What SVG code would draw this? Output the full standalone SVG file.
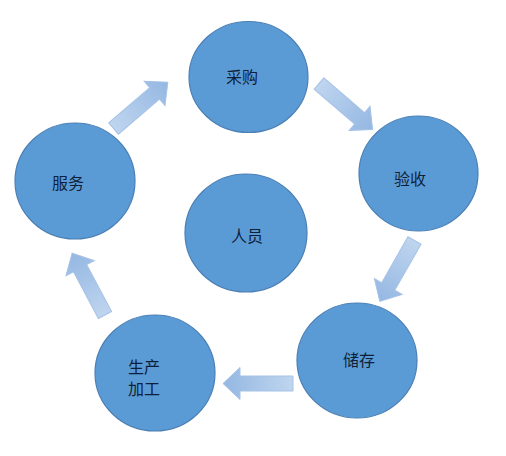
<svg xmlns="http://www.w3.org/2000/svg" width="506" height="456" viewBox="0 0 506 456">
  <defs>
    <linearGradient id="ag" x1="0" y1="0" x2="1" y2="0">
      <stop offset="0" stop-color="#bfd5ef"/>
      <stop offset="1" stop-color="#94b7e2"/>
    </linearGradient>
    <polygon id="arrow" points="0,-7.5 53,-7.5 53,-16 70,0 53,16 53,7.5 0,7.5" fill="url(#ag)" stroke="#a6c2e6" stroke-width="1"/>
  </defs>
  <style>
    .node ellipse { fill: #5b9bd5; stroke: #4a7fb5; stroke-width: 1.2; }
    .node text { font-family: "Noto Sans CJK SC", "Noto Sans", sans-serif; font-size: 16px; fill: #0f1f3a; text-anchor: middle; dominant-baseline: central; }
  </style>
  <rect width="506" height="456" fill="#ffffff"/>
  <g id="connectors">
    <use href="#arrow" transform="translate(113.5,128.5) rotate(-40.5) scale(1.02,1)"/>
    <use href="#arrow" transform="translate(319,83.5) rotate(40.7) scale(1.01,1)"/>
    <use href="#arrow" transform="translate(414.5,240.5) rotate(119.7)"/>
    <use href="#arrow" transform="translate(293,383.5) rotate(180)"/>
    <use href="#arrow" transform="translate(105,315) rotate(-118)"/>
  </g>
  <g id="node-caigou" class="node">
    <ellipse cx="248.5" cy="77" rx="59.5" ry="55.5"/>
    <text x="242" y="76">采购</text>
  </g>
  <g id="node-yanshou" class="node">
    <ellipse cx="418.5" cy="173.5" rx="59.5" ry="57.5"/>
    <text x="410" y="178">验收</text>
  </g>
  <g id="node-chucun" class="node">
    <ellipse cx="357" cy="360.5" rx="60" ry="57.5"/>
    <text x="359" y="359">储存</text>
  </g>
  <g id="node-shengchan" class="node">
    <ellipse cx="155" cy="373" rx="60" ry="58"/>
    <text x="144" y="366">生产</text>
    <text x="144" y="388">加工</text>
  </g>
  <g id="node-fuwu" class="node">
    <ellipse cx="75" cy="181" rx="60" ry="58"/>
    <text x="68" y="182">服务</text>
  </g>
  <g id="node-renyuan" class="node">
    <ellipse cx="246" cy="233" rx="61" ry="59"/>
    <text x="247" y="235">人员</text>
  </g>
</svg>
